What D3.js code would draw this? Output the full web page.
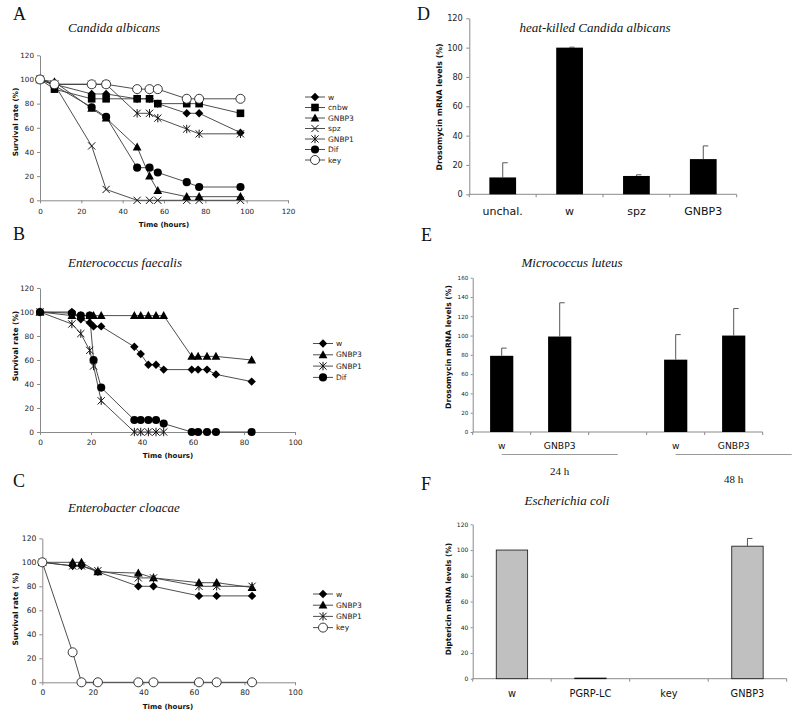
<!DOCTYPE html>
<html><head><meta charset="utf-8">
<script src="https://cdn.jsdelivr.net/npm/d3@7"></script>
<style>body{margin:0;background:#fff}</style>
</head><body>
<svg id="c" width="800" height="716" xmlns="http://www.w3.org/2000/svg"></svg>
<script>
// ---------- DATA ----------
// Panel A: Candida albicans survival
const aTimes = [0, 7, 25, 32, 47, 53, 57, 71, 77, 97];
const aW     = [100, 96, 88, 88, 84, 84, 80, 72, 72, 56];
const aCnbw  = [100, 92, 84, 84, 84, 84, 80, 80, 80, 72];
const aGNBP3 = [100, 98, 76, 68, 44, 20, 8, 3, 3, 3];
const aSpz   = [100, 96, 45, 9, 0, 0, 0, 0, 0, 0];
const aGNBP1 = [100, 96, 96, 96, 72, 72, 68, 59, 55, 55];
const aDif   = [100, 95, 77, 69, 27, 27, 23, 15, 11, 11];
const aKey   = [100, 96, 96, 96, 92, 92, 92, 84, 84, 84];
const aXTicks = [0, 20, 40, 60, 80, 100, 120];
// Panel B: Enterococcus faecalis survival
const bTimes = [0, 12.5, 16, 19.5, 21, 24, 37, 39.5, 42.5, 45.5, 48.5, 59.5, 62, 65.5, 69, 83];
const bW     = [100, 100, 94, 91, 88, 88, 71, 65, 56, 56, 52, 52, 52, 52, 48, 42];
const bGNBP3 = [100, 97, 97, 97, 97, 97, 97, 97, 97, 97, 97, 63, 63, 63, 63, 60];
const bGNBP1 = [100, 90, 82, 68, 55, 26, 0, 0, 0, 0, 0, null, null, null, null, null];
const bDif   = [100, 99, 97, 97, 60, 37, 10, 10, 10, 10, 7, 0, 0, 0, 0, 0];
// Panel C: Enterobacter cloacae survival
const cTimes = [0, 12, 15.5, 22, 38, 44, 62, 69, 83];
const cW     = [100, 97, 97, 92, 80, 80, 72, 72, 72];
const cGNBP3 = [100, 100, 100, 92, 91, 87, 83, 83, 79];
const cGNBP1 = [100, 97, 97, 93, 87, 87, 80, 80, 80];
const cKey   = [100, 25, 0, 0, 0, 0, 0, 0, 0];
const bcXTicks = [0, 20, 40, 60, 80, 100];
const survYTicks = [0, 20, 40, 60, 80, 100, 120];
// Panel D: Drosomycin, heat-killed C. albicans
const dCats = ["unchal.", "w", "spz", "GNBP3"];
const dVals = [11.5, 100, 12.5, 24];
const dErr  = [10, 0.3, 0.8, 9];
const dYTicks = [0, 20, 40, 60, 80, 100, 120];
// Panel E: Drosomycin, M. luteus
const eCats = ["w", "GNBP3", "", "w", "GNBP3"];
const eVals = [79, 99, null, 75, 100];
const eErr  = [8, 35, null, 26, 28];
const eGroups = ["24 h", "48 h"];
const eYTicks = [0, 20, 40, 60, 80, 100, 120, 140, 160];
// Panel F: Diptericin, E. coli
const fCats = ["w", "PGRP-LC", "key", "GNBP3"];
const fVals = [100, 0.5, 0, 103];
const fErr  = [null, null, null, 6];
const fYTicks = [0, 20, 40, 60, 80, 100, 120];

// ---------- DRAWING ----------
const svg = d3.select("#c");
const SANS = "'DejaVu Sans', Verdana, sans-serif";
const SERIF = "'Liberation Serif', 'Times New Roman', serif";
const AXC = "#8a8a8a";
const LINEC = "#3a3a3a";

const markerPaths = {
  diamond: "M0,-4.2L4.2,0L0,4.2L-4.2,0Z",
  square: "M-3.8,-3.8H3.8V3.8H-3.8Z",
  triangle: "M0,-4.6L4.4,3.4L-4.4,3.4Z",
  cross: "M-3.6,-3.6L3.6,3.6M-3.6,3.6L3.6,-3.6",
  asterisk: "M-3.6,-3.6L3.6,3.6M-3.6,3.6L3.6,-3.6M0,-4.2L0,4.2",
  circle: d3.symbol(d3.symbolCircle, 52)(),
  ocircle: d3.symbol(d3.symbolCircle, 64)()
};
function drawMarker(g, type, x, y) {
  const p = g.append("path").attr("d", markerPaths[type]).attr("transform", `translate(${x},${y})`);
  if (type === "cross" || type === "asterisk") p.attr("fill", "none").attr("stroke", "#111").attr("stroke-width", 1);
  else if (type === "ocircle") p.attr("fill", "#fff").attr("stroke", "#222").attr("stroke-width", 0.9);
  else p.attr("fill", "#000");
}

function styleAxis(ax, fs) {
  ax.select(".domain").attr("stroke", AXC);
  ax.selectAll(".tick line").attr("stroke", AXC);
  ax.selectAll(".tick text").attr("font-family", SANS).attr("font-size", fs).attr("fill", "#222");
}

function panelText(x, y, txt, opts) {
  const t = svg.append("text").attr("x", x).attr("y", y).text(txt)
    .attr("font-family", opts.family || SANS).attr("font-size", opts.size)
    .attr("fill", opts.fill || "#111");
  if (opts.italic) t.attr("font-style", "italic");
  if (opts.bold) t.attr("font-weight", "bold");
  if (opts.anchor) t.attr("text-anchor", opts.anchor);
  return t;
}
function yTitle(x, yc, txt, fs) {
  svg.append("text").attr("transform", `translate(${x},${yc}) rotate(-90)`)
    .attr("text-anchor", "middle").attr("dy", "0.35em").text(txt)
    .attr("font-family", SANS).attr("font-weight", "bold").attr("font-size", fs).attr("fill", "#111");
}

function lineChart(cfg) {
  const x = d3.scaleLinear().domain(cfg.xDomain).range(cfg.xRange);
  const y = d3.scaleLinear().domain([0, 120]).range(cfg.yRange);
  const g = svg.append("g");
  const ay = g.append("g").attr("transform", `translate(${cfg.xRange[0]},0)`)
    .call(d3.axisLeft(y).tickValues(survYTicks).tickSize(3).tickSizeOuter(0).tickPadding(3));
  styleAxis(ay, cfg.fs);
  const ax = g.append("g").attr("transform", `translate(0,${cfg.yRange[0]})`)
    .call(d3.axisBottom(x).tickValues(cfg.xTicks).tickSize(3).tickSizeOuter(0).tickPadding(cfg.xPad));
  styleAxis(ax, cfg.fs);
  const line = d3.line().defined(d => d[1] != null).x(d => x(d[0])).y(d => y(d[1]));
  cfg.series.forEach(s => {
    const pts = cfg.times.map((t, i) => [t, s.vals[i]]);
    g.append("path").attr("d", line(pts)).attr("fill", "none").attr("stroke", LINEC).attr("stroke-width", 0.9);
  });
  cfg.series.forEach(s => {
    cfg.times.forEach((t, i) => {
      if (s.vals[i] != null) drawMarker(g, s.marker, x(t), y(s.vals[i]));
    });
  });
  // legend
  cfg.series.forEach((s, i) => {
    const ly = cfg.legY + i * cfg.legStep;
    g.append("line").attr("x1", cfg.legX).attr("x2", cfg.legX + 20).attr("y1", ly).attr("y2", ly)
      .attr("stroke", LINEC).attr("stroke-width", 0.9);
    drawMarker(g, s.marker, cfg.legX + 10, ly);
    g.append("text").attr("x", cfg.legX + 23).attr("y", ly).attr("dy", "0.35em").text(s.name)
      .attr("font-family", SANS).attr("font-size", 7.5).attr("fill", "#222");
  });
}

// Panel A
panelText(13, 20, "A", {family: SERIF, size: 18});
panelText(68, 32, "Candida albicans", {family: SERIF, size: 13, italic: true});
lineChart({
  xDomain: [0, 120], xRange: [40, 288], yRange: [200.3, 55.3], xTicks: aXTicks, xPad: 6, fs: 7.2,
  times: aTimes,
  series: [
    {name: "w", vals: aW, marker: "diamond"},
    {name: "cnbw", vals: aCnbw, marker: "square"},
    {name: "GNBP3", vals: aGNBP3, marker: "triangle"},
    {name: "spz", vals: aSpz, marker: "cross"},
    {name: "GNBP1", vals: aGNBP1, marker: "asterisk"},
    {name: "Dif", vals: aDif, marker: "circle"},
    {name: "key", vals: aKey, marker: "ocircle"}
  ],
  legX: 305, legY: 97, legStep: 10.5
});
yTitle(15, 122, "Survival rate (%)", 7.2);
panelText(164, 227, "Time (hours)", {size: 7, bold: true, anchor: "middle"});

// Panel B
panelText(13, 240, "B", {family: SERIF, size: 18});
panelText(68, 267, "Enterococcus faecalis", {family: SERIF, size: 13, italic: true});
lineChart({
  xDomain: [0, 100], xRange: [40, 295], yRange: [432, 288], xTicks: bcXTicks, xPad: 5, fs: 7.4,
  times: bTimes,
  series: [
    {name: "w", vals: bW, marker: "diamond"},
    {name: "GNBP3", vals: bGNBP3, marker: "triangle"},
    {name: "GNBP1", vals: bGNBP1, marker: "asterisk"},
    {name: "Dif", vals: bDif, marker: "circle"}
  ],
  legX: 313, legY: 343.5, legStep: 11.3
});
yTitle(15, 346, "Survival rate (%)", 7.4);
panelText(168, 458, "Time (hours)", {size: 7, bold: true, anchor: "middle"});

// Panel C
panelText(13, 487, "C", {family: SERIF, size: 18});
panelText(68, 512, "Enterobacter cloacae", {family: SERIF, size: 13, italic: true});
lineChart({
  xDomain: [0, 100], xRange: [42.3, 295], yRange: [682.3, 538.3], xTicks: bcXTicks, xPad: 4.5, fs: 7.6,
  times: cTimes,
  series: [
    {name: "w", vals: cW, marker: "diamond"},
    {name: "GNBP3", vals: cGNBP3, marker: "triangle"},
    {name: "GNBP1", vals: cGNBP1, marker: "asterisk"},
    {name: "key", vals: cKey, marker: "ocircle"}
  ],
  legX: 313, legY: 594, legStep: 11.2
});
yTitle(15, 609, "Survival rate ( %)", 7.4);
panelText(168, 708.5, "Time (hours)", {size: 7, bold: true, anchor: "middle"});

// Bar chart helper
function barChart(cfg) {
  const keys = cfg.cats.map((c, i) => i);
  const x = d3.scaleBand().domain(keys).range(cfg.xRange).padding(0);
  const y = d3.scaleLinear().domain([0, cfg.yMax]).range(cfg.yRange);
  const g = svg.append("g");
  const ay = g.append("g").attr("transform", `translate(${cfg.xRange[0]},0)`)
    .call(d3.axisLeft(y).tickValues(cfg.yTicks).tickSize(cfg.tick).tickSizeOuter(0).tickPadding(cfg.yPad));
  styleAxis(ay, cfg.fs);
  // x axis line + boundary ticks
  g.append("line").attr("x1", cfg.xRange[0]).attr("x2", cfg.xRange[1])
    .attr("y1", cfg.yRange[0]).attr("y2", cfg.yRange[0]).attr("stroke", AXC);
  keys.concat([keys.length]).forEach(k => {
    const bx = k < keys.length ? x(k) : cfg.xRange[1];
    g.append("line").attr("x1", bx).attr("x2", bx).attr("y1", cfg.yRange[0]).attr("y2", cfg.yRange[0] + 3)
      .attr("stroke", AXC);
  });
  const bw = x.bandwidth() * 0.4;
  keys.forEach(k => {
    const v = cfg.vals[k];
    if (v == null) return;
    const cx = x(k) + x.bandwidth() / 2;
    g.append("rect").attr("x", cx - bw / 2).attr("y", y(v)).attr("width", bw)
      .attr("height", Math.max(0, y(0) - y(v))).attr("fill", cfg.fill)
      .attr("stroke", cfg.stroke || "none").attr("stroke-width", 0.8);
    const e = cfg.err[k];
    if (e != null) {
      g.append("line").attr("x1", cx).attr("x2", cx).attr("y1", y(v)).attr("y2", y(v + e))
        .attr("stroke", "#444").attr("stroke-width", 0.9);
      g.append("line").attr("x1", cx).attr("x2", cx + 5).attr("y1", y(v + e)).attr("y2", y(v + e))
        .attr("stroke", "#444").attr("stroke-width", 0.9);
    }
    g.append("text").attr("x", cx).attr("y", cfg.labY).attr("text-anchor", "middle").text(cfg.cats[k])
      .attr("font-family", SANS).attr("font-size", cfg.labFs).attr("fill", "#111");
  });
  return x;
}

// Panel D
panelText(417, 20, "D", {family: SERIF, size: 18});
panelText(595, 32, "heat-killed Candida albicans", {family: SERIF, size: 13, italic: true, anchor: "middle"});
barChart({cats: dCats, vals: dVals, err: dErr, yMax: 120, yTicks: dYTicks,
  xRange: [469.3, 736.7], yRange: [194.3, 18.3], fill: "#000", fs: 8.2, tick: 3, yPad: 3.5,
  labY: 215, labFs: 11});
yTitle(439.5, 107, "Drosomycin mRNA levels (%)", 7.8);

// Panel E
panelText(421, 241, "E", {family: SERIF, size: 18});
panelText(572, 267, "Micrococcus luteus", {family: SERIF, size: 13, italic: true, anchor: "middle"});
const ex = barChart({cats: eCats, vals: eVals, err: eErr, yMax: 160, yTicks: eYTicks,
  xRange: [472.7, 762.7], yRange: [432, 277.7], fill: "#000", fs: 5.6, tick: 2, yPad: 2.4,
  labY: 449, labFs: 9.2});
yTitle(448, 347, "Drosomycin mRNA levels (%)", 7.6);
[0, 3].forEach((k, gi) => {
  const x1 = ex(k) + ex.bandwidth() / 2;
  const x2 = x1 + 2 * ex.step();
  svg.append("line").attr("x1", x1).attr("x2", x2).attr("y1", 454.5).attr("y2", 454.5)
    .attr("stroke", "#9a9a9a").attr("stroke-width", 1);
});
panelText(ex(1) + ex.bandwidth() / 2, 475, eGroups[0], {family: SERIF, size: 11, anchor: "middle"});
panelText(ex(4) + ex.bandwidth() / 2, 483, eGroups[1], {family: SERIF, size: 11, anchor: "middle"});

// Panel F
panelText(421, 490, "F", {family: SERIF, size: 18});
panelText(567, 505, "Escherichia coli", {family: SERIF, size: 13, italic: true, anchor: "middle"});
barChart({cats: fCats, vals: fVals, err: fErr, yMax: 120, yTicks: fYTicks,
  xRange: [472.7, 786.7], yRange: [678.7, 524.3], fill: "#c0c0c0", stroke: "#111", fs: 6, tick: 2, yPad: 2.4,
  labY: 697, labFs: 9.8});
yTitle(448, 599, "Diptericin mRNA levels (%)", 7.4);
</script>
</body></html>
